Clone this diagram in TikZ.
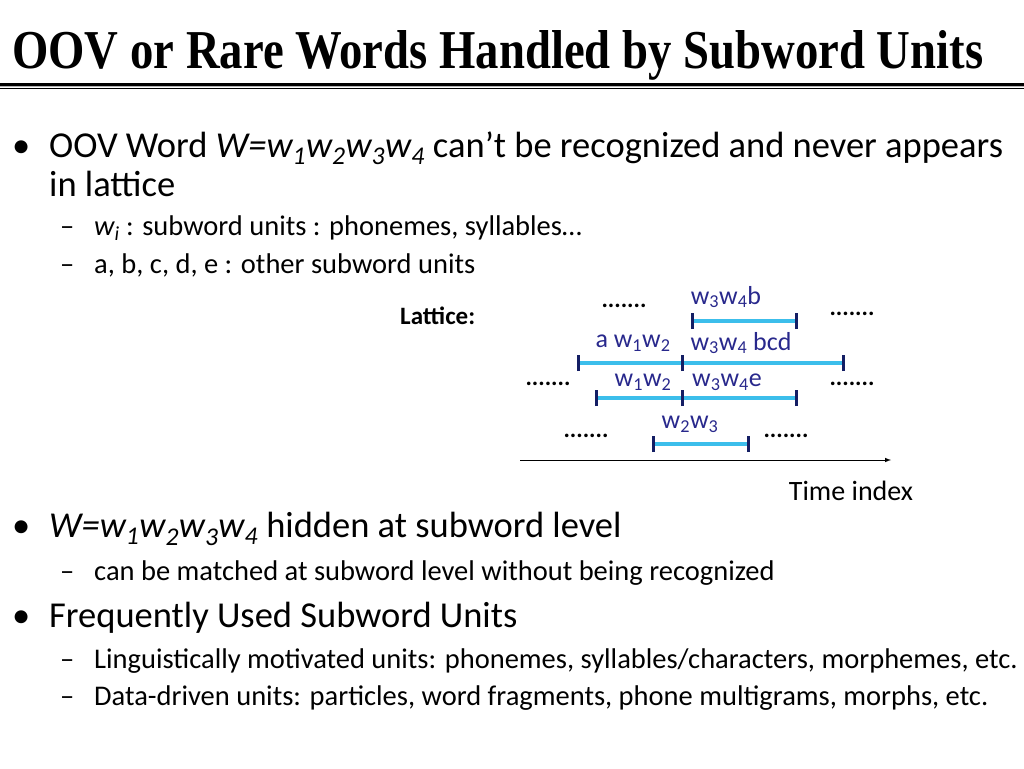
\documentclass[tikz,border=0pt]{standalone}
\usepackage{fontspec}
\setmainfont{Carlito}
\newfontfamily\titlefont{Liberation Serif}
\usepackage{graphicx}
\definecolor{seg}{RGB}{60,190,235}
\definecolor{tick}{RGB}{20,30,100}
\definecolor{lab}{RGB}{40,40,140}
\begin{document}
\begin{tikzpicture}[x=1pt,y=-1pt,
  big/.style={anchor=base west,inner sep=0,font=\fontsize{36.5}{40}\selectfont},
  small/.style={anchor=base west,inner sep=0,font=\fontsize{28.5}{32}\selectfont},
  lbl/.style={inner sep=0,text=lab,font=\fontsize{26}{28}\selectfont},
  dots/.style={inner sep=0,font=\fontsize{24}{28}\selectfont\bfseries},
  segl/.style={seg,line width=3.5pt},
  tk/.style={tick,line width=3pt}]
\useasboundingbox (0,0) rectangle (1024,768);
\node[anchor=base west,inner sep=0] (title) at (12,68) {\resizebox{971pt}{38pt}{\titlefont\bfseries OOV or Rare Words Handled by Subword Units}};
\draw[line width=3pt] (0,84) -- (1024,84);
\draw[gray!60,line width=1pt] (0,86.5) -- (1024,86.5);
\draw[line width=1pt] (0,88.5) -- (1024,88.5);
% bullets
\node[big] (b1) at (12,157) {•};
\node[big] (t1) at (49,157) {OOV Word \textit{W=w\textsubscript{1}w\textsubscript{2}w\textsubscript{3}w\textsubscript{4}} can’t be recognized and never appears};
\node[big] (t1b) at (49,196) {in lattice};
\node[small] (d1) at (60,235) {–};
\node[small] (s1) at (94,235) {\textit{w\textsubscript{i}} : subword units : phonemes, syllables…};
\node[small] (d2) at (60,273) {–};
\node[small] (s2) at (94,273) {a, b, c, d, e : other subword units};
\node[anchor=base west,inner sep=0,font=\fontsize{25}{28}\selectfont\bfseries] (lat) at (400,324) {Lattice:};
\node[big] (b2) at (12,537) {•};
\node[big] (t2) at (49,537) {\textit{W=w\textsubscript{1}w\textsubscript{2}w\textsubscript{3}w\textsubscript{4}} hidden at subword level};
\node[small] (d3) at (60,580) {–};
\node[small] (s3) at (94,580) {can be matched at subword level without being recognized};
\node[big] (b3) at (12,627) {•};
\node[big] (t3) at (49,627) {Frequently Used Subword Units};
\node[small] (d4) at (60,668) {–};
\node[small] (s4) at (94,668) {Linguistically motivated units: phonemes, syllables/characters, morphemes, etc.};
\node[small] (d5) at (60,705) {–};
\node[small] (s5) at (94,705) {Data-driven units: particles, word fragments, phone multigrams, morphs, etc.};
% lattice
\coordinate (r1a) at (692,321); \coordinate (r1b) at (796,321);
\coordinate (r2a) at (578,363); \coordinate (r2m) at (682,363); \coordinate (r2b) at (843,363);
\coordinate (r3a) at (596,398); \coordinate (r3m) at (682,398); \coordinate (r3b) at (796,398);
\coordinate (r4a) at (653,444); \coordinate (r4b) at (748,444);
\draw[segl] (r1a) -- (r1b);
\draw[segl] (r2a) -- (r2b);
\draw[segl] (r3a) -- (r3b);
\draw[segl] (r4a) -- (r4b);
\foreach \c in {r1a,r1b,r2a,r2m,r2b,r3a,r3m,r3b,r4a,r4b}
  \draw[tk] ([yshift=-8pt]\c) -- ([yshift=8pt]\c);
\node[lbl] (l1) at (726,297) {w\textsubscript{3}w\textsubscript{4}b};
\node[lbl] (l2) at (633,343) {a w\textsubscript{1}w\textsubscript{2}};
\node[lbl] (l3) at (741,343) {w\textsubscript{3}w\textsubscript{4} bcd};
\node[lbl] (l4) at (643,382) {w\textsubscript{1}w\textsubscript{2}};
\node[lbl] (l5) at (727,382) {w\textsubscript{3}w\textsubscript{4}e};
\node[lbl] (l6) at (690,424) {w\textsubscript{2}w\textsubscript{3}};
\node[dots] at (624,306) {.......};
\node[dots] at (852,314) {.......};
\node[dots] at (548,384) {.......};
\node[dots] at (852,384) {.......};
\node[dots] at (586,436) {.......};
\node[dots] at (786,436) {.......};
\coordinate (ax0) at (520,460); \coordinate (ax1) at (891,460);
\draw[-latex,line width=1pt] (ax0) -- (ax1);
\node[inner sep=0,font=\fontsize{28}{30}\selectfont] (ti) at (851,491) {Time index};
\end{tikzpicture}
\end{document}
